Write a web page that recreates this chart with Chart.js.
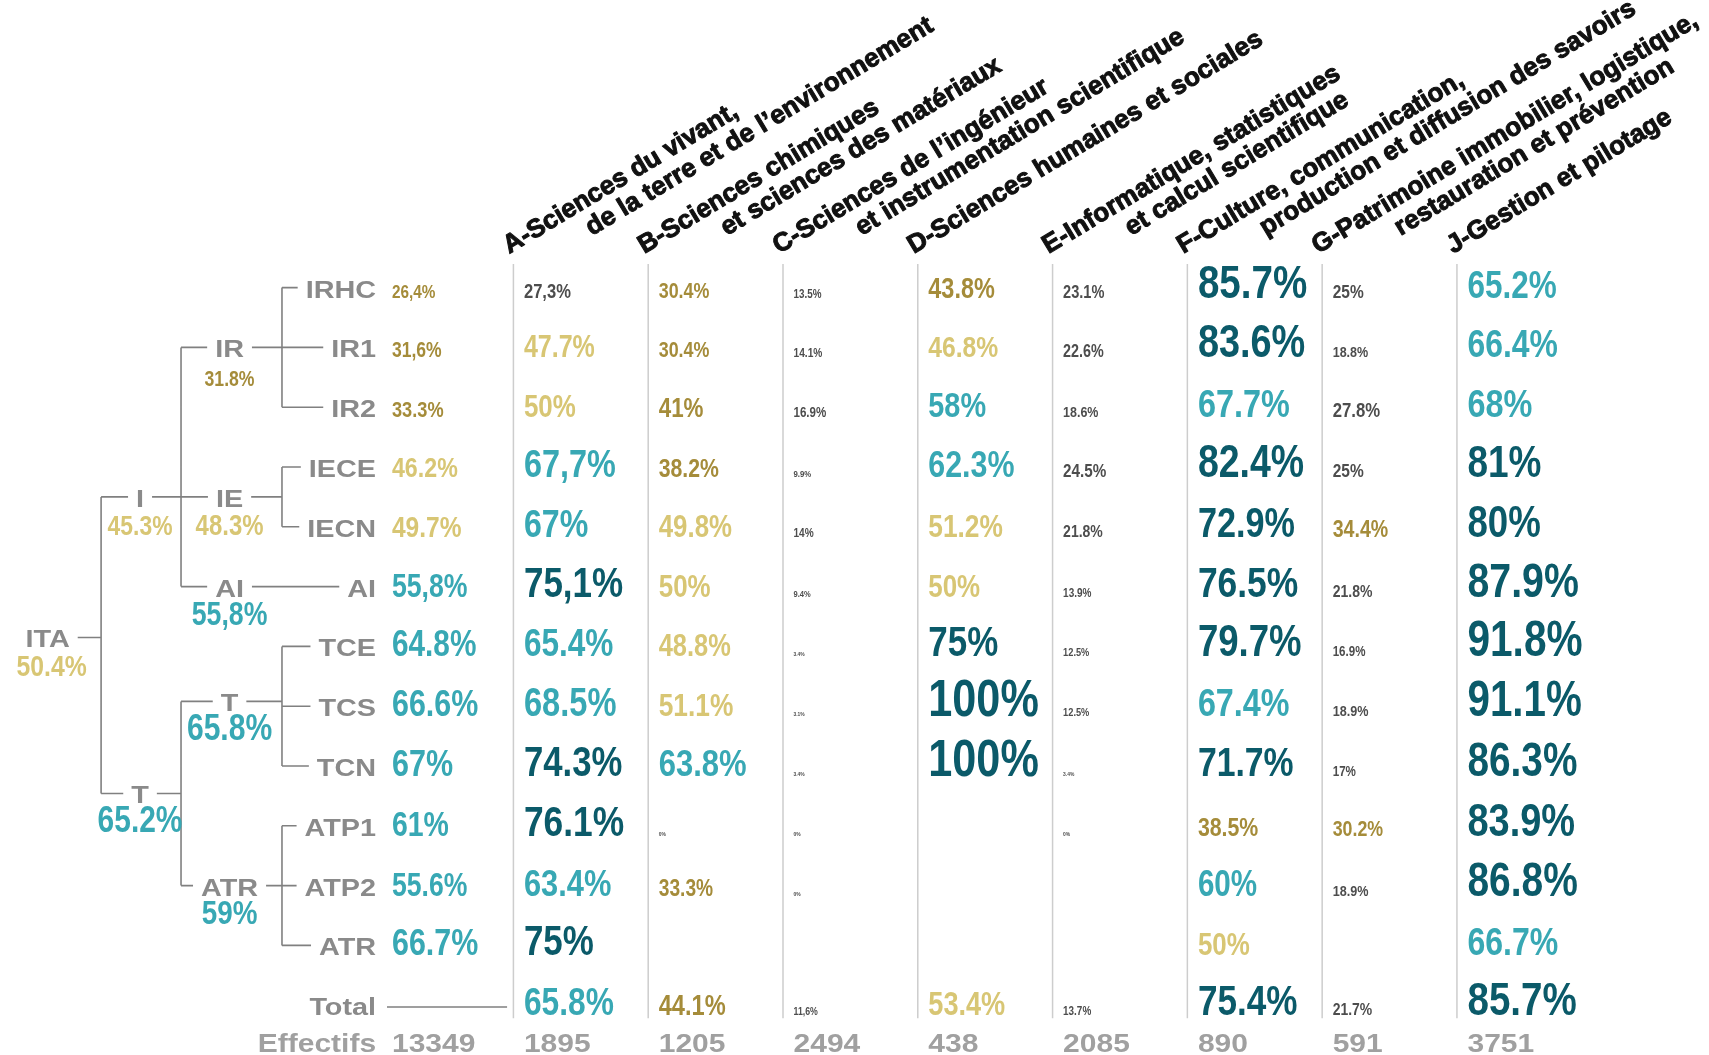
<!DOCTYPE html>
<html>
<head>
<meta charset="utf-8">
<script src="https://cdn.jsdelivr.net/npm/chart.js@4/dist/chart.umd.min.js"></script>
<style>
html,body{margin:0;padding:0;background:#fff;overflow:hidden}
#wrap{width:1709px;height:1055px}
</style>
</head>
<body>
<div id="wrap"><canvas id="c" width="1709" height="1055"></canvas></div>
<script>
// ---------------- DATA ----------------
const columnCodes = ['A','B','C','D','E','F','G','J'];
const headerLine1 = ['A-Sciences du vivant,','B-Sciences chimiques','C-Sciences de l\u2019ingénieur','D-Sciences humaines et sociales','E-Informatique, statistiques','F-Culture, communication,','G-Patrimoine immobilier, logistique,','J-Gestion et pilotage'];
const headerLine2 = ['de la terre et de l\u2019environnement','et sciences des matériaux','et instrumentation scientifique','','et calcul scientifique','production et diffusion des savoirs','restauration et prévention',''];

// rows: IRHC, IR1, IR2, IECE, IECN, AI, TCE, TCS, TCN, ATP1, ATP2, ATR, Total
const colA = ['27,3%','47.7%','50%','67,7%','67%','75,1%','65.4%','68.5%','74.3%','76.1%','63.4%','75%','65.8%'];
const colB = ['30.4%','30.4%','41%','38.2%','49.8%','50%','48.8%','51.1%','63.8%','0%','33.3%',null,'44.1%'];
const colC = ['13.5%','14.1%','16.9%','9.9%','14%','9.4%','3.4%','3.1%','3.4%','0%','0%',null,'11,6%'];
const colD = ['43.8%','46.8%','58%','62.3%','51.2%','50%','75%','100%','100%',null,null,null,'53.4%'];
const colE = ['23.1%','22.6%','18.6%','24.5%','21.8%','13.9%','12.5%','12.5%','3.4%','0%',null,null,'13.7%'];
const colF = ['85.7%','83.6%','67.7%','82.4%','72.9%','76.5%','79.7%','67.4%','71.7%','38.5%','60%','50%','75.4%'];
const colG = ['25%','18.8%','27.8%','25%','34.4%','21.8%','16.9%','18.9%','17%','30.2%','18.9%',null,'21.7%'];
const colJ = ['65.2%','66.4%','68%','81%','80%','87.9%','91.8%','91.1%','86.3%','83.9%','86.8%','66.7%','85.7%'];
const tableColumns = [colA,colB,colC,colD,colE,colF,colG,colJ];

const effectifsByColumn = [1895,1205,2494,438,2085,890,591,3751];
const effectifsTotal = 13349;

const leafNames = ['IRHC','IR1','IR2','IECE','IECN','AI','TCE','TCS','TCN','ATP1','ATP2','ATR'];
const leafRates = ['26,4%','31,6%','33.3%','46.2%','49.7%','55,8%','64.8%','66.6%','67%','61%','55.6%','66.7%'];
const groupNames = ['IR','IE','AI','T','ATR'];
const groupRates = ['31.8%','48.3%','55,8%','65.8%','59%'];
const groupChildren = [[0,1,2],[3,4],[5],[6,7,8],[9,10,11]];
const branchNames = ['I','T'];
const branchRates = ['45.3%','65.2%'];
const branchChildren = [[0,1,2],[3,4]];
const rootName = 'ITA';
const rootRate = '50.4%';

// ---------------- LAYOUT (scale units: x = column index, y = row index) ----------------
const LAYOUT = {
  xMin:-3.809, xMax:8.870, yMin:-4.977, yMax:12.666,
  cellDx:0.078, headerDx:-0.03, headerRow:-0.729,
  headerAngle:31, headerIndent:80, headerGap:27, headerSize:26,
  colTop:-0.56, colBottom:12.05,
  lineUp:0.167, valueDown:0.47,
  rootLift:0.13, tLift:0.08, rootValueDx:0.03,
  rowTotal:12, rowEffectifs:12.615,
  xRoot:-3.456, xBranch:-2.770, xGroup:-2.106,
  xV0:-3.059, xV1:-2.466, xV2:-1.717,
  xLeafLabel:-1.019, xLeafValue:-0.901,
  xTotalStart:-0.938, xTotalEnd:-0.047
};
const FONT = '"Liberation Sans", Arial, sans-serif';
const SX_PCT = 0.82, SX_LABEL = 1.2;
const GRAY_LABEL = '#8a8a8a', GRAY_EFF = '#a0a0a0';

function parseRate(s){ return parseFloat(String(s).replace(',', '.')); }
function rateSize(v, k){ return Math.max(6, k * 1.25 * Math.pow(Math.max(v,0), 0.74) / 0.716); }
function rateColor(v, grayBelow){
  if (v < grayBelow) return '#4d4d4d';
  if (v < 45) return '#a58c3a';
  if (v < 55) return '#d8c674';
  if (v < 70) return '#38a8b4';
  return '#0b5a69';
}

// ---------------- DATASETS ----------------
const datasets = [];
function textDataset(items){
  return { data: items.map(it => ({x: it.x, y: it.y})), textItems: items,
           pointRadius: 0, pointHoverRadius: 0, showLine: false };
}

// column separators
const colPts = [];
columnCodes.forEach((c,k) => { colPts.push({x:k,y:LAYOUT.colTop},{x:k,y:LAYOUT.colBottom},{x:null,y:null}); });
datasets.push({ data: colPts, showLine: true, borderColor: '#cdcdcd', borderWidth: 1.5, pointRadius: 0, spanGaps: false });

// tree
function midRow(rows){ return rows.length % 2 ? rows[(rows.length-1)/2] : (rows[0] + rows[rows.length-1]) / 2; }
const groupRows = groupChildren.map(ch => midRow(ch) - (ch.length === 3 && ch[0] >= 6 && ch[0] < 9 ? LAYOUT.tLift : 0));
const branchRows = branchChildren.map(ch => midRow(ch.map(g => groupRows[g])));
const rootRow = midRow(branchRows) - LAYOUT.rootLift;
const ly = r => r - LAYOUT.lineUp;
const treePts = [];
const seg = (x1,y1,x2,y2) => treePts.push({x:x1,y:y1},{x:x2,y:y2},{x:null,y:null});
seg(LAYOUT.xRoot, ly(rootRow), LAYOUT.xV0, ly(rootRow));
seg(LAYOUT.xV0, ly(branchRows[0]), LAYOUT.xV0, ly(branchRows[branchRows.length-1]));
branchRows.forEach(r => seg(LAYOUT.xV0, ly(r), LAYOUT.xBranch, ly(r)));
branchChildren.forEach((ch,b) => {
  seg(LAYOUT.xBranch, ly(branchRows[b]), LAYOUT.xV1, ly(branchRows[b]));
  const rs = ch.map(g => groupRows[g]);
  seg(LAYOUT.xV1, ly(rs[0]), LAYOUT.xV1, ly(rs[rs.length-1]));
  rs.forEach(r => seg(LAYOUT.xV1, ly(r), LAYOUT.xGroup, ly(r)));
});
groupChildren.forEach((ch,g) => {
  const gy = ly(groupRows[g]);
  seg(LAYOUT.xGroup, gy, LAYOUT.xV2, gy);
  seg(LAYOUT.xV2, Math.min(gy, ly(ch[0])), LAYOUT.xV2, Math.max(gy, ly(ch[ch.length-1])));
  ch.forEach(r => seg(LAYOUT.xV2, ly(r), LAYOUT.xLeafLabel, ly(r)));
});
seg(LAYOUT.xTotalStart, ly(LAYOUT.rowTotal)+0.03, LAYOUT.xTotalEnd, ly(LAYOUT.rowTotal)+0.03);
datasets.push({ data: treePts, showLine: true, borderColor: '#808080', borderWidth: 1.6, pointRadius: 0, spanGaps: false });

// table cells
tableColumns.forEach((col,k) => {
  const items = [];
  col.forEach((s,i) => {
    if (s == null) return;
    const v = parseRate(s);
    items.push({ x: k + LAYOUT.cellDx, y: i, text: s, size: rateSize(v,1), color: rateColor(v,28), sx: SX_PCT, align: 'left' });
  });
  datasets.push(textDataset(items));
});

// tree labels
const treeText = [];
leafNames.forEach((n,i) => {
  treeText.push({ x: LAYOUT.xLeafLabel, y: i, text: n, size: 24, color: GRAY_LABEL, sx: SX_LABEL, align: 'right', halo: 8 });
  const v = parseRate(leafRates[i]);
  treeText.push({ x: LAYOUT.xLeafValue, y: i, text: leafRates[i], size: rateSize(v,0.95), color: rateColor(v,0), sx: SX_PCT, align: 'left' });
});
function nodeText(x, r, name, rate, valueDx){
  treeText.push({ x, y: r, text: name, size: 24, color: GRAY_LABEL, sx: SX_LABEL, align: 'center', halo: 8 });
  const v = parseRate(rate);
  treeText.push({ x: x + (valueDx || 0), y: r + LAYOUT.valueDown, text: rate, size: rateSize(v,0.95), color: rateColor(v,0), sx: SX_PCT, align: 'center' });
}
groupNames.forEach((n,g) => nodeText(LAYOUT.xGroup, groupRows[g], n, groupRates[g]));
branchNames.forEach((n,b) => nodeText(LAYOUT.xBranch, branchRows[b], n, branchRates[b]));
nodeText(LAYOUT.xRoot, rootRow, rootName, rootRate, LAYOUT.rootValueDx);
treeText.push({ x: LAYOUT.xLeafLabel, y: LAYOUT.rowTotal, text: 'Total', size: 24, color: GRAY_LABEL, sx: SX_LABEL, align: 'right', halo: 8 });
datasets.push(textDataset(treeText));

// effectifs row
const effItems = [{ x: LAYOUT.xLeafLabel, y: LAYOUT.rowEffectifs, text: 'Effectifs', size: 25, color: GRAY_EFF, sx: SX_LABEL, align: 'right' },
                  { x: LAYOUT.xLeafValue, y: LAYOUT.rowEffectifs, text: String(effectifsTotal), size: 25, color: GRAY_EFF, sx: SX_LABEL, align: 'left' }];
effectifsByColumn.forEach((n,k) => effItems.push({ x: k + LAYOUT.cellDx, y: LAYOUT.rowEffectifs, text: String(n), size: 25, color: GRAY_EFF, sx: SX_LABEL, align: 'left' }));
datasets.push(textDataset(effItems));

// ---------------- PLUGIN ----------------
const textLayer = {
  id: 'textLayer',
  afterDatasetsDraw(chart){
    const ctx = chart.ctx;
    const all = [];
    chart.data.datasets.forEach((ds,i) => {
      if (!ds.textItems) return;
      const meta = chart.getDatasetMeta(i);
      ds.textItems.forEach((it,j) => { const el = meta.data[j]; if (el) all.push({ it, px: el.x, py: el.y }); });
    });
    const font = it => `bold ${it.size.toFixed(1)}px ${FONT}`;
    all.forEach(({it,px,py}) => {
      if (!it.halo) return;
      ctx.save();
      ctx.font = font(it);
      const w = ctx.measureText(it.text).width * it.sx;
      const x0 = it.align === 'right' ? px - w : it.align === 'center' ? px - w/2 : px;
      ctx.fillStyle = '#fff';
      ctx.fillRect(x0 - it.halo, py - it.size*0.72 - 3, w + 2*it.halo, it.size*0.72 + 5);
      ctx.restore();
    });
    all.forEach(({it,px,py}) => {
      ctx.save();
      ctx.font = font(it);
      ctx.fillStyle = it.color;
      ctx.textAlign = it.align || 'left';
      ctx.textBaseline = 'alphabetic';
      ctx.translate(px, py);
      ctx.scale(it.sx || 1, 1);
      ctx.fillText(it.text, 0, 0);
      ctx.restore();
    });
    // rotated column headers
    const xs = chart.scales.x, ys = chart.scales.y;
    const y0 = ys.getPixelForValue(LAYOUT.headerRow);
    columnCodes.forEach((c,k) => {
      const x0 = xs.getPixelForValue(k + LAYOUT.headerDx);
      ctx.save();
      ctx.translate(x0, y0);
      ctx.rotate(-LAYOUT.headerAngle * Math.PI / 180);
      ctx.font = `bold ${LAYOUT.headerSize}px ${FONT}`;
      ctx.fillStyle = '#111';
      ctx.strokeStyle = '#111';
      ctx.lineWidth = 1.0;
      ctx.lineJoin = 'round';
      ctx.textAlign = 'left';
      ctx.textBaseline = 'alphabetic';
      ctx.fillText(headerLine1[k], 0, 0);
      ctx.strokeText(headerLine1[k], 0, 0);
      if (headerLine2[k]) {
        ctx.fillText(headerLine2[k], LAYOUT.headerIndent, LAYOUT.headerGap);
        ctx.strokeText(headerLine2[k], LAYOUT.headerIndent, LAYOUT.headerGap);
      }
      ctx.restore();
    });
  }
};

new Chart(document.getElementById('c'), {
  type: 'scatter',
  data: { datasets },
  options: {
    responsive: false,
    animation: false,
    events: [],
    layout: { padding: 0 },
    plugins: { legend: { display: false }, tooltip: { enabled: false } },
    scales: {
      x: { type: 'linear', min: LAYOUT.xMin, max: LAYOUT.xMax, display: false },
      y: { type: 'linear', min: LAYOUT.yMin, max: LAYOUT.yMax, reverse: true, display: false }
    }
  },
  plugins: [textLayer]
});
</script>
</body>
</html>
